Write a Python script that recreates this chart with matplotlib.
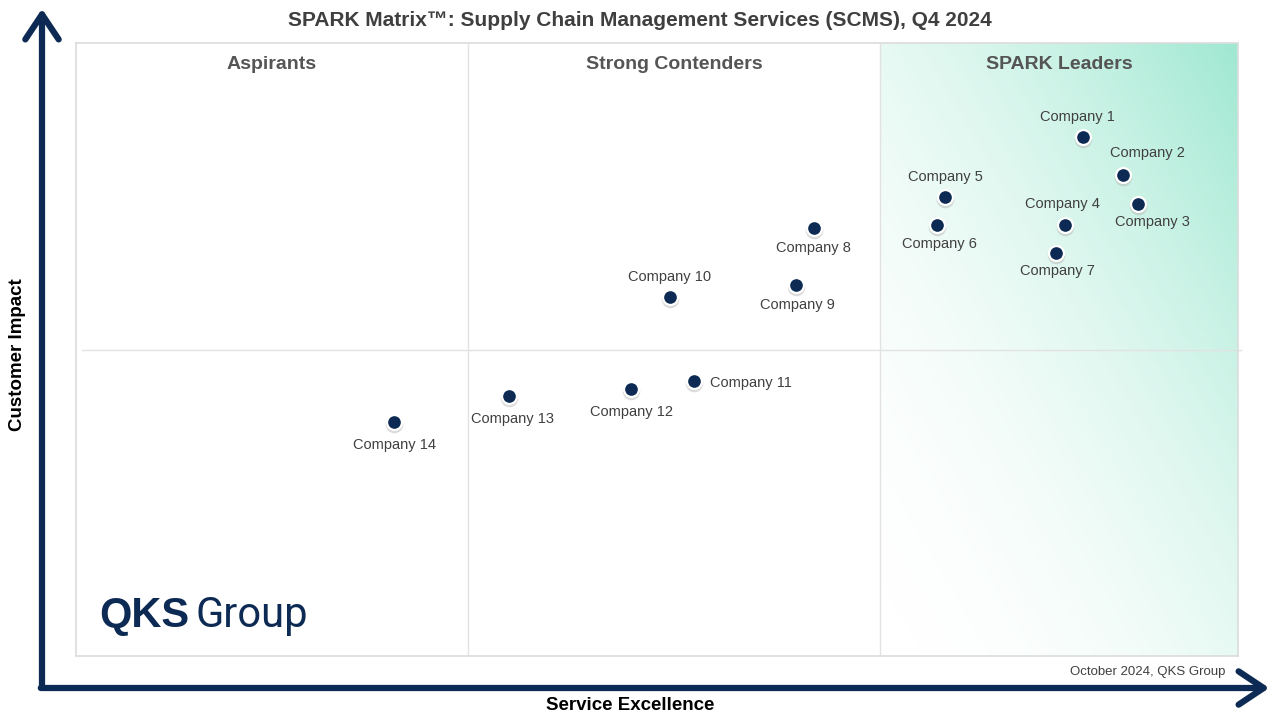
import numpy as np
import matplotlib.pyplot as plt
from matplotlib.colors import LinearSegmentedColormap
from matplotlib.patches import FancyArrowPatch

plt.rcParams['font.family'] = ['Liberation Sans', 'DejaVu Sans']

companies = ["Company 1", "Company 2", "Company 3", "Company 4", "Company 5",
             "Company 6", "Company 7", "Company 8", "Company 9", "Company 10",
             "Company 11", "Company 12", "Company 13", "Company 14"]
service_excellence = [86.7, 90.1, 91.4, 85.1, 74.8, 74.1, 84.3,
                      63.5, 62.0, 51.1, 53.2, 47.8, 37.3, 27.4]
customer_impact = [84.7, 78.5, 73.7, 70.3, 74.9, 70.3, 65.7,
                   69.8, 60.5, 58.6, 44.9, 43.6, 42.4, 38.2]
quadrants = ["Aspirants", "Strong Contenders", "SPARK Leaders"]
x_splits = [33.7, 69.2]
y_split = 50.0

# label offset from its dot, in pixels (dx, dy) and horizontal alignment
label_place = {
    "Company 1": (-6, 20, "center"),
    "Company 2": (24, 22, "center"),
    "Company 3": (14, -18, "center"),
    "Company 4": (-2, 21, "center"),
    "Company 5": (0, 20, "center"),
    "Company 6": (2, -19, "center"),
    "Company 7": (2, -18, "center"),
    "Company 8": (0, -20, "center"),
    "Company 9": (1, -20, "center"),
    "Company 10": (0, 20, "center"),
    "Company 11": (16, -2, "left"),
    "Company 12": (0, -23, "center"),
    "Company 13": (3, -23, "center"),
    "Company 14": (0, -23, "center"),
}

navy = "#0c2a53"
W, H = 1280, 720
fig = plt.figure(figsize=(12.8, 7.2), dpi=100)
ax = fig.add_axes([76 / W, (H - 656) / H, 1162 / W, 613 / H])
ax.set_xlim(0, 100)
ax.set_ylim(0, 100)
ax.set_xticks([])
ax.set_yticks([])
for s in ax.spines.values():
    s.set_color("#dcdcdc")
    s.set_linewidth(1.2)

# leaders gradient
nx, ny = 200, 200
u = np.linspace(0, 1, nx)[None, :]
v = np.linspace(0, 1, ny)[:, None]
t = np.clip(((u + v) / 2) ** 2.0, 0, 1)
cmap = LinearSegmentedColormap.from_list("mint", ["#ffffff", "#9fe8d1"])
ax.imshow(t, cmap=cmap, origin="lower", extent=[x_splits[1], 100, 0, 100],
          aspect="auto", vmin=0, vmax=1, zorder=0)

for xs in x_splits:
    ax.axvline(xs, color="#e2e2e2", lw=1.0, zorder=1)
ax.plot([0.5, 100.3], [y_split, y_split], color="#e2e2e2", lw=1.0, zorder=1, clip_on=False)

centers = [x_splits[0] / 2, sum(x_splits) / 2, (x_splits[1] + 100) / 2]
for name, cx in zip(quadrants, centers):
    ax.text(cx, 96.5, name, ha="center", va="center", fontsize=14,
            fontweight="bold", color="#555555")

# dots with soft shadow
ax.scatter(service_excellence, np.array(customer_impact) - 0.35,
           s=160, color="#b0b0b0", alpha=0.45, zorder=3, linewidths=0)
ax.scatter(service_excellence, customer_impact, s=115, color=navy,
           edgecolors="white", linewidths=1.6, zorder=4)

for name, x, y in zip(companies, service_excellence, customer_impact):
    dx, dy, ha = label_place[name]
    ax.annotate(name, (x, y), xytext=(dx * 0.72, dy * 0.72), textcoords="offset points",
                ha=ha, va="center", fontsize=10.5, color="#404040", zorder=5)

# logo
ax.text(2.0, 6.6, "QKS", fontsize=30, fontweight="bold", color=navy,
        ha="left", va="center")
ax.text(10.3, 6.6, "Group", fontsize=30, fontweight="normal", color=navy,
        ha="left", va="center", family=["Roboto", "Liberation Sans"])

# axes arrows
fig.add_artist(FancyArrowPatch((42 / W, 1 - 690 / H), (42 / W, 1 - 6 / H),
                               transform=fig.transFigure, arrowstyle="->,head_length=9,head_width=6",
                               color=navy, lw=4.5, mutation_scale=2))
fig.add_artist(FancyArrowPatch((38 / W, 1 - 688 / H), (1272 / W, 1 - 688 / H),
                               transform=fig.transFigure, arrowstyle="->,head_length=9,head_width=6",
                               color=navy, lw=4.5, mutation_scale=2))

fig.text(640 / W, 1 - 20 / H, "SPARK Matrix\u2122: Supply Chain Management Services (SCMS), Q4 2024",
         ha="center", va="center", fontsize=15, fontweight="bold", color="#3f3f3f")
fig.text(18 / W, 1 - 355 / H, "Customer Impact", rotation=90, ha="center", va="center",
         fontsize=13.5, fontweight="bold", color="black")
fig.text(630 / W, 1 - 705 / H, "Service Excellence", ha="center", va="center",
         fontsize=13.5, fontweight="bold", color="black")
fig.text(1225 / W, 1 - 672 / H, "October 2024, QKS Group", ha="right", va="center",
         fontsize=9.5, color="#404040")

fig.savefig("out.png", dpi=100)
